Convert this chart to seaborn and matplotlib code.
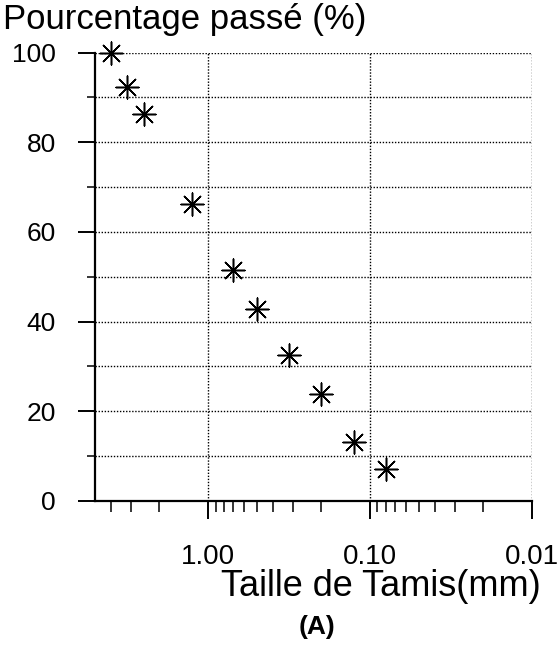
import matplotlib
matplotlib.use("Agg")
import matplotlib.pyplot as plt
import seaborn as sns
import pandas as pd
import numpy as np
from matplotlib.ticker import FixedLocator, NullFormatter

sieve_mm = [4.0, 3.15, 2.5, 1.25, 0.70, 0.50, 0.315, 0.20, 0.125, 0.08]
passing_pct = [100.0, 92.4, 86.3, 66.3, 51.6, 42.9, 32.6, 23.8, 13.0, 7.1]
x_ticks = [1.0, 0.1, 0.01]
x_tick_labels = ["1.00", "0.10", "0.01"]
y_ticks = [0, 20, 40, 60, 80, 100]

sns.set_style("white")
plt.rcParams['font.family'] = ['Liberation Sans', 'DejaVu Sans']
plt.rcParams['text.color'] = 'black'
plt.rcParams['xtick.color'] = 'black'
plt.rcParams['ytick.color'] = 'black'
plt.rcParams['xtick.labelcolor'] = 'black'
plt.rcParams['ytick.labelcolor'] = 'black'

df = pd.DataFrame({"size": sieve_mm, "pct": passing_pct})

fig = plt.figure(figsize=(5.59, 6.55), dpi=100)
ax = fig.add_axes([95/559, 1 - 500.7/655, (532-95)/559, (500.7-52.7)/655])

sns.scatterplot(data=df, x="size", y="pct", ax=ax, marker=(8, 2, 0), s=270,
                color="black", linewidth=1.1, zorder=5, clip_on=False)

ax.set_xscale("log")
ax.set_xlim(5, 0.01)
ax.set_ylim(0, 100)

ax.xaxis.set_major_locator(FixedLocator(x_ticks))
ax.set_xticklabels(x_tick_labels)
minor_x = [4, 3, 2] + [v * d for d in (0.1, 0.01) for v in (2, 3, 4, 5, 6, 7, 8, 9)]
ax.xaxis.set_minor_locator(FixedLocator(sorted(minor_x)))
ax.xaxis.set_minor_formatter(NullFormatter())

ax.set_yticks(y_ticks)
ax.set_yticks([10, 30, 50, 70, 90], minor=True)

ax.grid(True, which="major", axis="x", color="black", linestyle=(0, (1, 1.2)), linewidth=1)
ax.grid(True, which="both", axis="y", color="black", linestyle=(0, (1, 1.2)), linewidth=1)

for s in ("top", "right"):
    ax.spines[s].set_visible(False)
for s in ("left", "bottom"):
    ax.spines[s].set_color("black")
    ax.spines[s].set_linewidth(1.6)

ax.tick_params(axis="x", which="major", direction="out", length=13, width=1.4,
               labelsize=20, pad=18, color="black", labelcolor="black", bottom=True)
ax.tick_params(axis="x", which="minor", direction="out", length=8, width=1.1,
               color="black", bottom=True)
ax.tick_params(axis="y", which="major", direction="out", length=12, width=1.4,
               labelsize=19, pad=16, color="black", labelcolor="black", left=True)
ax.tick_params(axis="y", which="minor", direction="out", length=6, width=1.1,
               color="black", left=True)

ax.set_xlabel("")
ax.set_ylabel("")

fig.text(3/559, 1 - 20/655, "Pourcentage passé (%)", fontsize=25, ha="left", va="center", color="black")
fig.text(381/559, 1 - 587/655, "Taille de Tamis(mm)", fontsize=26, ha="center", va="center", color="black")
fig.text(317/559, 1 - 627/655, "(A)", fontsize=19, fontweight="bold", ha="center", va="center", color="black")

fig.savefig("out.png", dpi=100)
